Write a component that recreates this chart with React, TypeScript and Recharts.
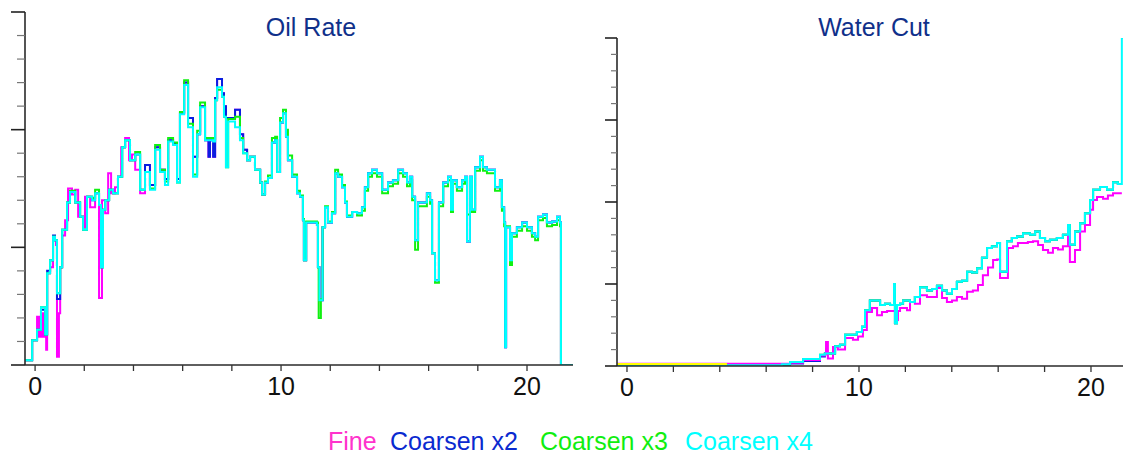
import { Line, LineChart, XAxis, YAxis } from "recharts";

type Pair = [number, number];

const FONT = '"Liberation Sans", Arial, sans-serif';

// shared axis ticks (time in years)
const timeTicks = [0, 2, 4, 6, 8, 10, 12, 14, 16, 18, 20];
const oilRateTicks = [0, 200, 400, 600, 800, 1000, 1200, 1400, 1600, 1800, 2000, 2200, 2400, 2600, 2800, 3000];
const waterCutTicks = [
  0, 0.05, 0.1, 0.15, 0.2, 0.25, 0.3, 0.35, 0.4, 0.45, 0.5, 0.55, 0.6, 0.65, 0.7, 0.75, 0.8, 0.85, 0.9, 0.95, 1,
];

const legendItems = [
  { name: "Fine", color: "#ff33cc", x: 328 },
  { name: "Coarsen x2", color: "#0a2ad0", x: 390 },
  { name: "Coarsen x3", color: "#10ee10", x: 540 },
  { name: "Coarsen x4", color: "#00ffff", x: 685 },
];

// ---- oil rate, [time, rate] ----
const oilFine: Pair[] = [
  [-0.41, 40], [-0.12, 210], [0.08, 410], [0.16, 240], [0.24, 440], [0.32, 240],
  [0.37, 440], [0.45, 130], [0.49, 780], [0.61, 830], [0.73, 1060], [0.85, 1020],
  [0.89, 70], [0.97, 440], [1.02, 830], [1.10, 1100], [1.22, 1230], [1.34, 1500],
  [1.50, 1450], [1.63, 1490], [1.75, 1260], [1.95, 1170], [2.03, 1430], [2.24, 1340],
  [2.44, 1460], [2.60, 570], [2.72, 1400], [2.85, 1290], [2.97, 1630], [3.09, 1460],
  [3.25, 1510], [3.37, 1600], [3.50, 1850], [3.66, 1930], [3.82, 1740], [3.94, 1790],
  [4.07, 1660], [4.27, 1460], [4.47, 1700], [4.67, 1530], [4.88, 1850], [5.08, 1660],
  [5.28, 1580], [5.41, 1910], [5.61, 1880], [5.77, 1580], [5.89, 2140], [6.06, 2400],
  [6.22, 2100], [6.42, 1770], [6.59, 1960], [6.71, 2200], [6.91, 1910], [7.05, 1770],
  [7.11, 1910], [7.24, 1770], [7.32, 2270], [7.40, 2430], [7.60, 2310], [7.68, 2200],
  [7.76, 2100], [8.13, 2170], [8.33, 1960], [8.46, 1830], [8.62, 1740], [8.74, 1770],
  [8.94, 1660], [9.15, 1550], [9.23, 1450], [9.35, 1550], [9.47, 1590], [9.63, 1890],
  [9.76, 1910], [9.84, 1640], [9.96, 2060], [10.08, 2140], [10.20, 1940], [10.28, 1740],
  [10.45, 1600], [10.65, 1460], [10.77, 1430], [10.89, 1230], [10.93, 890], [11.02, 1210],
  [11.46, 1190], [11.50, 830], [11.56, 550], [11.69, 1170], [11.79, 1340], [11.91, 1210],
  [12.07, 1290], [12.20, 1630], [12.32, 1600], [12.48, 1510], [12.60, 1380], [12.68, 1260],
  [12.89, 1300], [13.09, 1290], [13.29, 1340], [13.41, 1510], [13.54, 1630], [13.70, 1660],
  [13.90, 1630], [14.11, 1490], [14.35, 1550], [14.55, 1570], [14.76, 1660], [14.96, 1630],
  [15.12, 1550], [15.24, 1600], [15.33, 1430], [15.45, 1060], [15.57, 1380], [15.93, 1460],
  [16.06, 1400], [16.14, 950], [16.26, 720], [16.42, 1380], [16.59, 1550], [16.79, 1600],
  [16.91, 1320], [16.99, 1570], [17.15, 1510], [17.36, 1570], [17.48, 1600], [17.56, 1050],
  [17.68, 1600], [17.76, 1320], [17.89, 1680], [18.09, 1770], [18.21, 1680], [18.37, 1660],
  [18.70, 1510], [18.90, 1570], [18.98, 1340], [19.07, 1210], [19.11, 150], [19.15, 1170],
  [19.31, 890], [19.39, 1120], [19.59, 1170], [19.80, 1210], [20.00, 1170], [20.20, 1120],
  [20.33, 1090], [20.45, 1260], [20.65, 1280], [20.81, 1210], [21.02, 1220], [21.22, 1260],
  [21.34, 1210], [21.38, 0], [21.87, 0],
];

const oilCoarsenX2: Pair[] = [
  [-0.41, 40], [-0.12, 210], [0.08, 300], [0.24, 470], [0.41, 260], [0.49, 800],
  [0.61, 890], [0.73, 1100], [0.81, 1060], [0.89, 560], [1.02, 830], [1.10, 1150],
  [1.30, 1380], [1.42, 1470], [1.63, 1380], [1.83, 1260], [1.95, 1150], [2.11, 1430],
  [2.32, 1400], [2.44, 1460], [2.60, 1360], [2.68, 830], [2.76, 1320], [2.85, 1400],
  [3.01, 1490], [3.17, 1460], [3.37, 1600], [3.54, 1850], [3.66, 1910], [3.86, 1740],
  [4.07, 1790], [4.27, 1490], [4.47, 1700], [4.67, 1530], [4.88, 1850], [5.08, 1660],
  [5.28, 1580], [5.41, 1910], [5.61, 1880], [5.77, 1580], [5.89, 2140], [6.06, 2400],
  [6.22, 2100], [6.42, 1770], [6.59, 1960], [6.71, 2200], [6.91, 1910], [7.05, 1770],
  [7.11, 1910], [7.24, 1770], [7.32, 2270], [7.40, 2430], [7.60, 2310], [7.68, 2200],
  [7.76, 2100], [8.13, 2170], [8.33, 1960], [8.46, 1830], [8.62, 1740], [8.74, 1770],
  [8.94, 1660], [9.15, 1550], [9.23, 1450], [9.35, 1550], [9.47, 1590], [9.63, 1890],
  [9.76, 1910], [9.84, 1640], [9.96, 2060], [10.08, 2140], [10.20, 1940], [10.28, 1740],
  [10.45, 1600], [10.65, 1460], [10.77, 1430], [10.89, 1230], [10.93, 890], [11.02, 1210],
  [11.46, 1190], [11.50, 830], [11.56, 550], [11.69, 1170], [11.79, 1340], [11.91, 1210],
  [12.07, 1290], [12.20, 1630], [12.32, 1600], [12.48, 1510], [12.60, 1380], [12.68, 1260],
  [12.89, 1300], [13.09, 1290], [13.29, 1340], [13.41, 1510], [13.54, 1630], [13.70, 1660],
  [13.90, 1630], [14.11, 1490], [14.35, 1550], [14.55, 1570], [14.76, 1660], [14.96, 1630],
  [15.12, 1550], [15.24, 1600], [15.33, 1430], [15.45, 1060], [15.57, 1380], [15.93, 1460],
  [16.06, 1400], [16.14, 950], [16.26, 720], [16.42, 1380], [16.59, 1550], [16.79, 1600],
  [16.91, 1320], [16.99, 1570], [17.15, 1510], [17.36, 1570], [17.48, 1600], [17.56, 1050],
  [17.68, 1600], [17.76, 1320], [17.89, 1680], [18.09, 1770], [18.21, 1680], [18.37, 1660],
  [18.70, 1510], [18.90, 1570], [18.98, 1340], [19.07, 1210], [19.11, 150], [19.15, 1170],
  [19.31, 890], [19.39, 1120], [19.59, 1170], [19.80, 1210], [20.00, 1170], [20.20, 1120],
  [20.33, 1090], [20.45, 1260], [20.65, 1280], [20.81, 1210], [21.02, 1220], [21.22, 1260],
  [21.34, 1210], [21.38, 0], [21.87, 0],
];

const oilCoarsenX3: Pair[] = [
  [-0.41, 40], [-0.12, 210], [0.08, 300], [0.24, 490], [0.41, 260], [0.49, 780],
  [0.61, 890], [0.73, 1090], [0.81, 1060], [0.89, 610], [1.02, 830], [1.10, 1150],
  [1.30, 1380], [1.42, 1480], [1.63, 1380], [1.83, 1260], [1.95, 1150], [2.11, 1430],
  [2.32, 1420], [2.44, 1490], [2.60, 1360], [2.68, 830], [2.76, 1320], [2.85, 1400],
  [3.01, 1490], [3.17, 1460], [3.37, 1600], [3.54, 1850], [3.66, 1910], [3.86, 1740],
  [4.07, 1810], [4.27, 1490], [4.47, 1640], [4.67, 1500], [4.88, 1870], [5.08, 1660],
  [5.28, 1560], [5.41, 1930], [5.61, 1890], [5.77, 1550], [5.89, 2150], [6.06, 2420],
  [6.22, 2050], [6.42, 1620], [6.59, 1990], [6.71, 2230], [6.91, 1930], [7.24, 1920],
  [7.32, 2250], [7.40, 2340], [7.60, 2280], [7.68, 2110], [7.76, 1680], [7.85, 2090],
  [8.13, 2110], [8.33, 1930], [8.46, 1800], [8.62, 1740], [8.74, 1770], [8.94, 1660],
  [9.15, 1550], [9.23, 1450], [9.35, 1560], [9.47, 1610], [9.63, 1930], [9.76, 1940],
  [9.84, 1640], [9.96, 2100], [10.08, 2170], [10.20, 2000], [10.28, 1780], [10.45, 1620],
  [10.65, 1480], [10.77, 1440], [10.89, 1240], [10.93, 890], [11.02, 1220], [11.46, 1210],
  [11.50, 830], [11.53, 400], [11.62, 560], [11.69, 1170], [11.79, 1350], [11.91, 1220],
  [12.07, 1300], [12.20, 1660], [12.32, 1620], [12.48, 1530], [12.60, 1390], [12.68, 1270],
  [12.89, 1300], [13.09, 1270], [13.29, 1310], [13.41, 1480], [13.54, 1600], [13.70, 1630],
  [13.90, 1600], [14.11, 1460], [14.35, 1520], [14.55, 1540], [14.76, 1630], [14.96, 1600],
  [15.12, 1520], [15.24, 1570], [15.33, 1400], [15.45, 980], [15.57, 1350], [15.93, 1430],
  [16.06, 1370], [16.14, 950], [16.26, 700], [16.42, 1350], [16.59, 1520], [16.79, 1570],
  [16.91, 1300], [16.99, 1540], [17.15, 1480], [17.36, 1540], [17.48, 1570], [17.56, 1280],
  [17.68, 1570], [17.76, 1300], [17.89, 1650], [18.09, 1740], [18.21, 1650], [18.37, 1630],
  [18.70, 1480], [18.90, 1540], [18.98, 1310], [19.07, 1180], [19.31, 850], [19.39, 1090],
  [19.59, 1140], [19.80, 1180], [20.00, 1140], [20.20, 1090], [20.33, 1060], [20.45, 1230],
  [20.65, 1250], [20.81, 1180], [21.02, 1190], [21.22, 1230], [21.34, 1180], [21.38, 0],
  [21.87, 0],
];

const oilCoarsenX4: Pair[] = [
  [-0.41, 40], [-0.12, 210], [0.08, 300], [0.24, 490], [0.41, 260], [0.49, 780],
  [0.61, 890], [0.73, 1090], [0.81, 1060], [0.89, 610], [1.02, 830], [1.10, 1150],
  [1.30, 1380], [1.42, 1470], [1.63, 1380], [1.83, 1260], [1.95, 1150], [2.11, 1430],
  [2.32, 1400], [2.44, 1460], [2.60, 1360], [2.68, 830], [2.76, 1320], [2.85, 1400],
  [3.01, 1490], [3.17, 1460], [3.37, 1600], [3.54, 1850], [3.66, 1910], [3.86, 1740],
  [4.07, 1790], [4.27, 1490], [4.47, 1640], [4.67, 1490], [4.88, 1830], [5.08, 1640],
  [5.28, 1530], [5.41, 1900], [5.61, 1870], [5.77, 1550], [5.89, 2130], [6.06, 2380],
  [6.22, 2020], [6.42, 1600], [6.59, 1960], [6.71, 2190], [6.91, 1910], [7.24, 1900],
  [7.32, 2250], [7.40, 2360], [7.60, 2280], [7.68, 2110], [7.76, 1680], [7.85, 2070],
  [8.13, 2020], [8.33, 1910], [8.46, 1800], [8.62, 1740], [8.74, 1770], [8.94, 1660],
  [9.15, 1550], [9.23, 1450], [9.35, 1550], [9.47, 1590], [9.63, 1890], [9.76, 1910],
  [9.84, 1640], [9.96, 2060], [10.08, 2140], [10.20, 1940], [10.28, 1740], [10.45, 1600],
  [10.65, 1460], [10.77, 1430], [10.89, 1230], [10.93, 890], [11.02, 1210], [11.46, 1190],
  [11.50, 830], [11.56, 550], [11.69, 1170], [11.79, 1340], [11.91, 1210], [12.07, 1290],
  [12.20, 1630], [12.32, 1600], [12.48, 1510], [12.60, 1380], [12.68, 1260], [12.89, 1300],
  [13.09, 1290], [13.29, 1340], [13.41, 1510], [13.54, 1630], [13.70, 1660], [13.90, 1630],
  [14.11, 1490], [14.35, 1550], [14.55, 1570], [14.76, 1660], [14.96, 1630], [15.12, 1550],
  [15.24, 1600], [15.33, 1430], [15.45, 1060], [15.57, 1380], [15.93, 1460], [16.06, 1400],
  [16.14, 950], [16.26, 720], [16.42, 1380], [16.59, 1550], [16.79, 1600], [16.91, 1320],
  [16.99, 1570], [17.15, 1510], [17.36, 1570], [17.48, 1600], [17.56, 1050], [17.68, 1600],
  [17.76, 1320], [17.89, 1680], [18.09, 1770], [18.21, 1680], [18.37, 1660], [18.70, 1510],
  [18.90, 1570], [18.98, 1340], [19.07, 1210], [19.11, 150], [19.15, 1170], [19.31, 890],
  [19.39, 1120], [19.59, 1170], [19.80, 1210], [20.00, 1170], [20.20, 1120], [20.33, 1090],
  [20.45, 1260], [20.65, 1280], [20.81, 1210], [21.02, 1220], [21.22, 1260], [21.34, 1210],
  [21.38, 0], [21.87, 0],
];

// ---- water cut, [time, fraction] ----
const wcHistory: Pair[] = [[-0.43, 0.006], [4.31, 0.006]];

const wcFine: Pair[] = [
  [-0.43, 0.007], [6.68, 0.007], [7.03, 0.01], [7.59, 0.018], [8.32, 0.032], [8.53, 0.035],
  [8.58, 0.073], [8.66, 0.023], [8.88, 0.058], [9.09, 0.05], [9.40, 0.085], [9.74, 0.08],
  [9.96, 0.09], [10.17, 0.11], [10.34, 0.165], [10.56, 0.177], [10.78, 0.155], [10.99, 0.165],
  [11.21, 0.168], [11.51, 0.168], [11.59, 0.14], [11.68, 0.168], [11.77, 0.177], [12.07, 0.17],
  [12.20, 0.195], [12.41, 0.19], [12.63, 0.216], [12.93, 0.21], [13.36, 0.238], [13.58, 0.207],
  [13.79, 0.195], [14.01, 0.2], [14.22, 0.21], [14.44, 0.205], [14.66, 0.226], [14.91, 0.23],
  [15.13, 0.247], [15.34, 0.277], [15.56, 0.3], [15.78, 0.323], [15.95, 0.325], [16.08, 0.268],
  [16.42, 0.36], [16.64, 0.365], [16.85, 0.375], [17.07, 0.375], [17.28, 0.378], [17.50, 0.38],
  [17.72, 0.369], [17.93, 0.354], [18.15, 0.345], [18.36, 0.36], [18.58, 0.355], [18.79, 0.365],
  [19.01, 0.41], [19.09, 0.317], [19.31, 0.354], [19.53, 0.41], [19.74, 0.43], [19.96, 0.476],
  [20.09, 0.506], [20.26, 0.515], [20.52, 0.51], [20.73, 0.52], [20.95, 0.527], [21.33, 0.527],
];

const wcCoarsenX2: Pair[] = [
  [-0.43, 0.002], [6.68, 0.004], [7.03, 0.008], [7.59, 0.015], [8.32, 0.029], [8.53, 0.038],
  [8.97, 0.06], [9.18, 0.065], [9.40, 0.095], [9.91, 0.104], [10.13, 0.12], [10.26, 0.17],
  [10.47, 0.2], [10.91, 0.186], [11.12, 0.19], [11.34, 0.186], [11.51, 0.25], [11.55, 0.13],
  [11.64, 0.186], [11.77, 0.19], [11.90, 0.2], [12.20, 0.195], [12.41, 0.21], [12.63, 0.24],
  [12.93, 0.23], [13.15, 0.235], [13.36, 0.245], [13.58, 0.23], [13.79, 0.22], [14.01, 0.235],
  [14.22, 0.257], [14.44, 0.26], [14.66, 0.287], [14.87, 0.285], [15.09, 0.298], [15.30, 0.33],
  [15.52, 0.36], [15.73, 0.365], [15.95, 0.375], [16.08, 0.287], [16.38, 0.38], [16.59, 0.39],
  [16.81, 0.395], [17.07, 0.405], [17.37, 0.4], [17.59, 0.41], [17.80, 0.39], [18.02, 0.38],
  [18.23, 0.385], [18.53, 0.39], [18.79, 0.4], [19.01, 0.43], [19.09, 0.37], [19.31, 0.41],
  [19.53, 0.435], [19.74, 0.466], [19.96, 0.506], [20.09, 0.537], [20.39, 0.546], [20.69, 0.537],
  [20.95, 0.56], [21.16, 0.555], [21.33, 0.555],
];

const wcCoarsenX3: Pair[] = [
  [-0.43, 0.002], [6.68, 0.005], [7.03, 0.012], [7.59, 0.021], [8.32, 0.034], [8.53, 0.038],
  [8.97, 0.06], [9.18, 0.065], [9.40, 0.095], [9.91, 0.104], [10.13, 0.12], [10.26, 0.17],
  [10.47, 0.2], [10.91, 0.186], [11.12, 0.19], [11.34, 0.186], [11.51, 0.25], [11.55, 0.13],
  [11.64, 0.186], [11.77, 0.19], [11.90, 0.2], [12.20, 0.195], [12.41, 0.21], [12.63, 0.24],
  [12.93, 0.23], [13.15, 0.235], [13.36, 0.245], [13.58, 0.23], [13.79, 0.22], [14.01, 0.235],
  [14.22, 0.257], [14.44, 0.26], [14.66, 0.287], [14.87, 0.285], [15.09, 0.298], [15.30, 0.33],
  [15.52, 0.36], [15.73, 0.365], [15.95, 0.375], [16.08, 0.287], [16.38, 0.38], [16.59, 0.39],
  [16.81, 0.395], [17.07, 0.405], [17.37, 0.4], [17.59, 0.41], [17.80, 0.39], [18.02, 0.38],
  [18.23, 0.385], [18.53, 0.39], [18.79, 0.4], [19.01, 0.43], [19.09, 0.37], [19.31, 0.41],
  [19.53, 0.435], [19.74, 0.466], [19.96, 0.506], [20.09, 0.537], [20.39, 0.546], [20.69, 0.537],
  [20.95, 0.56], [21.16, 0.555], [21.33, 0.555],
];

const wcCoarsenX4: Pair[] = [
  [-0.43, 0.002], [6.68, 0.005], [7.03, 0.012], [7.59, 0.021], [8.32, 0.034], [8.53, 0.038],
  [8.97, 0.06], [9.18, 0.065], [9.40, 0.095], [9.91, 0.104], [10.13, 0.12], [10.26, 0.17],
  [10.47, 0.2], [10.91, 0.186], [11.12, 0.19], [11.34, 0.186], [11.51, 0.25], [11.55, 0.13],
  [11.64, 0.186], [11.77, 0.19], [11.90, 0.2], [12.20, 0.195], [12.41, 0.21], [12.63, 0.24],
  [12.93, 0.23], [13.15, 0.235], [13.36, 0.245], [13.58, 0.23], [13.79, 0.22], [14.01, 0.235],
  [14.22, 0.257], [14.44, 0.26], [14.66, 0.287], [14.87, 0.285], [15.09, 0.298], [15.30, 0.33],
  [15.52, 0.36], [15.73, 0.365], [15.95, 0.375], [16.08, 0.287], [16.38, 0.38], [16.59, 0.39],
  [16.81, 0.395], [17.07, 0.405], [17.37, 0.4], [17.59, 0.41], [17.80, 0.39], [18.02, 0.38],
  [18.23, 0.385], [18.53, 0.39], [18.79, 0.4], [19.01, 0.43], [19.09, 0.37], [19.31, 0.41],
  [19.53, 0.435], [19.74, 0.466], [19.96, 0.506], [20.09, 0.537], [20.39, 0.546], [20.69, 0.537],
  [20.95, 0.56], [21.16, 0.555], [21.33, 1.0], [21.38, 1.0],
];

const toPoints = (pairs: Pair[]) => pairs.map(([t, v]) => ({ t, v }));

type Series = { key: string; color: string; points: Pair[] };

const oilSeries: Series[] = [
  { key: "fine", color: "#ff00ff", points: oilFine },
  { key: "x2", color: "#0a1ee0", points: oilCoarsenX2 },
  { key: "x3", color: "#11f011", points: oilCoarsenX3 },
  { key: "x4", color: "#00ffff", points: oilCoarsenX4 },
];

// coarse runs first so the fine run stays visible near zero; history on top
const waterSeries: Series[] = [
  { key: "x2", color: "#0a1ee0", points: wcCoarsenX2 },
  { key: "x3", color: "#11f011", points: wcCoarsenX3 },
  { key: "fine", color: "#ff00ff", points: wcFine },
  { key: "x4", color: "#00ffff", points: wcCoarsenX4 },
  { key: "hist", color: "#ffff00", points: wcHistory },
];

function TimeTick(props: any) {
  const { x, y, payload } = props;
  const v = payload.value as number;
  return (
    <g>
      <line x1={x} y1={y} x2={x} y2={y + 6} stroke="#333" strokeWidth={1.3} />
      {v % 10 === 0 ? (
        <text x={x} y={y + 30} textAnchor="middle" fontSize={25} fontFamily={FONT} fill="#111">
          {v}
        </text>
      ) : null}
    </g>
  );
}

function makeValueTick(isMajor: (v: number) => boolean, majorLen: number, minorLen: number) {
  return (props: any) => {
    const { x, y, payload } = props;
    const major = isMajor(payload.value);
    return (
      <line
        x1={x - (major ? majorLen : minorLen)}
        y1={y}
        x2={x}
        y2={y}
        stroke={major ? "#222" : "#777"}
        strokeWidth={major ? 1.6 : 1.2}
      />
    );
  };
}

const oilTick = makeValueTick((v) => v % 1000 === 0, 14, 8);
const waterTick = makeValueTick((v) => Math.abs(v * 4 - Math.round(v * 4)) < 1e-6, 12, 6);

type PanelProps = {
  left: number;
  width: number;
  margin: { top: number; right: number; bottom: number; left: number };
  xHeight: number;
  xDomain: [number, number];
  yDomain: [number, number];
  yTicks: number[];
  yTick: (props: any) => any;
  series: Series[];
};

function Panel({ left, width, margin, xHeight, xDomain, yDomain, yTicks, yTick, series }: PanelProps) {
  return (
    <div style={{ position: "absolute", left, top: 0 }}>
      <LineChart width={width} height={400} margin={margin}>
        <XAxis
          dataKey="t"
          type="number"
          domain={xDomain}
          allowDataOverflow
          ticks={timeTicks}
          interval={0}
          height={xHeight}
          tickSize={0}
          tickMargin={0}
          tickLine={false}
          axisLine={{ stroke: "#2a2a2a", strokeWidth: 1.6 }}
          tick={TimeTick}
        />
        <YAxis
          type="number"
          domain={yDomain}
          allowDataOverflow
          ticks={yTicks}
          interval={0}
          width={20}
          tickSize={0}
          tickMargin={0}
          tickLine={false}
          axisLine={{ stroke: "#2a2a2a", strokeWidth: 1.6 }}
          tick={yTick}
        />
        {series.map((s) => (
          <Line
            key={s.key}
            data={toPoints(s.points)}
            dataKey="v"
            type="stepAfter"
            stroke={s.color}
            strokeWidth={2}
            dot={false}
            activeDot={false}
            isAnimationActive={false}
          />
        ))}
      </LineChart>
    </div>
  );
}

export default function App() {
  return (
    <div
      style={{
        position: "absolute",
        left: 0,
        top: 0,
        width: 1123,
        height: 456,
        background: "#fff",
        overflow: "hidden",
        fontFamily: FONT,
      }}
    >
      <Panel
        left={0}
        width={580}
        margin={{ top: 12, right: 7, bottom: 0, left: 5 }}
        xHeight={35}
        xDomain={[-0.41, 21.87]}
        yDomain={[0, 3000]}
        yTicks={oilRateTicks}
        yTick={oilTick}
        series={oilSeries}
      />
      <Panel
        left={590}
        width={533}
        margin={{ top: 38, right: 0, bottom: 0, left: 7 }}
        xHeight={34}
        xDomain={[-0.43, 21.38]}
        yDomain={[0, 1]}
        yTicks={waterCutTicks}
        yTick={waterTick}
        series={waterSeries}
      />
      <svg
        width={1123}
        height={456}
        style={{ position: "absolute", left: 0, top: 0, pointerEvents: "none" }}
      >
        <text x={311} y={36} textAnchor="middle" fontSize={25} fontFamily={FONT} fill="#10308a">
          Oil Rate
        </text>
        <text x={874} y={36} textAnchor="middle" fontSize={25} fontFamily={FONT} fill="#10308a">
          Water Cut
        </text>
        {legendItems.map((item) => (
          <text key={item.name} x={item.x} y={450} fontSize={25} fontFamily={FONT} fill={item.color}>
            {item.name}
          </text>
        ))}
      </svg>
    </div>
  );
}
